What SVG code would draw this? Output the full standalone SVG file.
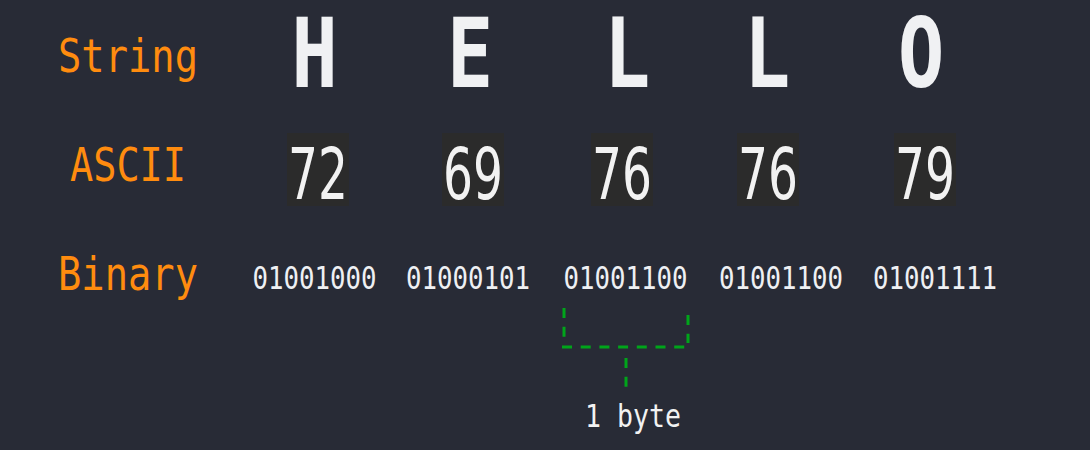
<svg xmlns="http://www.w3.org/2000/svg" width="1090" height="450" viewBox="0 0 1090 450">
<style>
.lbl{font-family:"DejaVu Sans Mono","Liberation Mono",monospace;font-size:47px;fill:#ff8c0f}
.chr{font-family:"DejaVu Sans Mono","Liberation Mono",monospace;font-weight:bold;font-size:96px;fill:#f0f1f3}
.num{font-family:"DejaVu Sans","Noto Sans",sans-serif;font-size:71px;fill:#f2f2f2}
.box{fill:#2b2b2b}
.bin{font-family:"DejaVu Sans Mono","Liberation Mono",monospace;font-size:31.5px;fill:#eef0f3}
.note{font-family:"DejaVu Sans Mono","Liberation Mono",monospace;font-size:32px;fill:#f2f2f2}
.dash{stroke:#00a51a;stroke-width:3;stroke-dasharray:10 8.7;fill:none}
</style>
<rect width="1090" height="450" fill="#282b36"/>
<g id="labels">
<text class="lbl" x="58" y="72" textLength="140" lengthAdjust="spacingAndGlyphs">String</text>
<text class="lbl" x="70" y="181" textLength="116" lengthAdjust="spacingAndGlyphs">ASCII</text>
<text class="lbl" x="58" y="290" textLength="140" lengthAdjust="spacingAndGlyphs">Binary</text>
</g>
<g id="col-H">
<text class="chr" text-anchor="middle" transform="translate(314.5,87) scale(0.8,1)">H</text>
<rect class="box" x="287" y="133" width="62" height="73"/>
<text class="num" x="318" y="199" text-anchor="middle" textLength="60" lengthAdjust="spacingAndGlyphs">72</text>
<text class="bin" x="314.5" y="289" text-anchor="middle" textLength="124" lengthAdjust="spacingAndGlyphs">01001000</text>
</g>
<g id="col-E">
<text class="chr" text-anchor="middle" transform="translate(470,87) scale(0.8,1)">E</text>
<rect class="box" x="442" y="133" width="62" height="73"/>
<text class="num" x="473" y="199" text-anchor="middle" textLength="60" lengthAdjust="spacingAndGlyphs">69</text>
<text class="bin" x="468" y="289" text-anchor="middle" textLength="124" lengthAdjust="spacingAndGlyphs">01000101</text>
</g>
<g id="col-L1">
<text class="chr" text-anchor="middle" transform="translate(627,87) scale(0.8,1)">L</text>
<rect class="box" x="591" y="133" width="62" height="73"/>
<text class="num" x="622" y="199" text-anchor="middle" textLength="60" lengthAdjust="spacingAndGlyphs">76</text>
<text class="bin" x="625.5" y="289" text-anchor="middle" textLength="124" lengthAdjust="spacingAndGlyphs">01001100</text>
</g>
<g id="col-L2">
<text class="chr" text-anchor="middle" transform="translate(767,87) scale(0.8,1)">L</text>
<rect class="box" x="737" y="133" width="62" height="73"/>
<text class="num" x="768" y="199" text-anchor="middle" textLength="60" lengthAdjust="spacingAndGlyphs">76</text>
<text class="bin" x="781" y="289" text-anchor="middle" textLength="124" lengthAdjust="spacingAndGlyphs">01001100</text>
</g>
<g id="col-O">
<text class="chr" text-anchor="middle" transform="translate(921,87) scale(0.8,1)">O</text>
<rect class="box" x="894" y="133" width="62" height="73"/>
<text class="num" x="925" y="199" text-anchor="middle" textLength="60" lengthAdjust="spacingAndGlyphs">79</text>
<text class="bin" x="935" y="289" text-anchor="middle" textLength="124" lengthAdjust="spacingAndGlyphs">01001111</text>
</g>
<g id="connectors">
<line class="dash" x1="564" y1="308" x2="564" y2="340"/>
<line class="dash" x1="562" y1="347" x2="686" y2="347"/>
<line class="dash" x1="688" y1="315" x2="688" y2="343"/>
<line class="dash" x1="626" y1="358" x2="626" y2="388"/>
</g>
<g id="byte-label">
<text class="note" x="633" y="427" text-anchor="middle" textLength="96" lengthAdjust="spacingAndGlyphs">1 byte</text>
</g>
</svg>
